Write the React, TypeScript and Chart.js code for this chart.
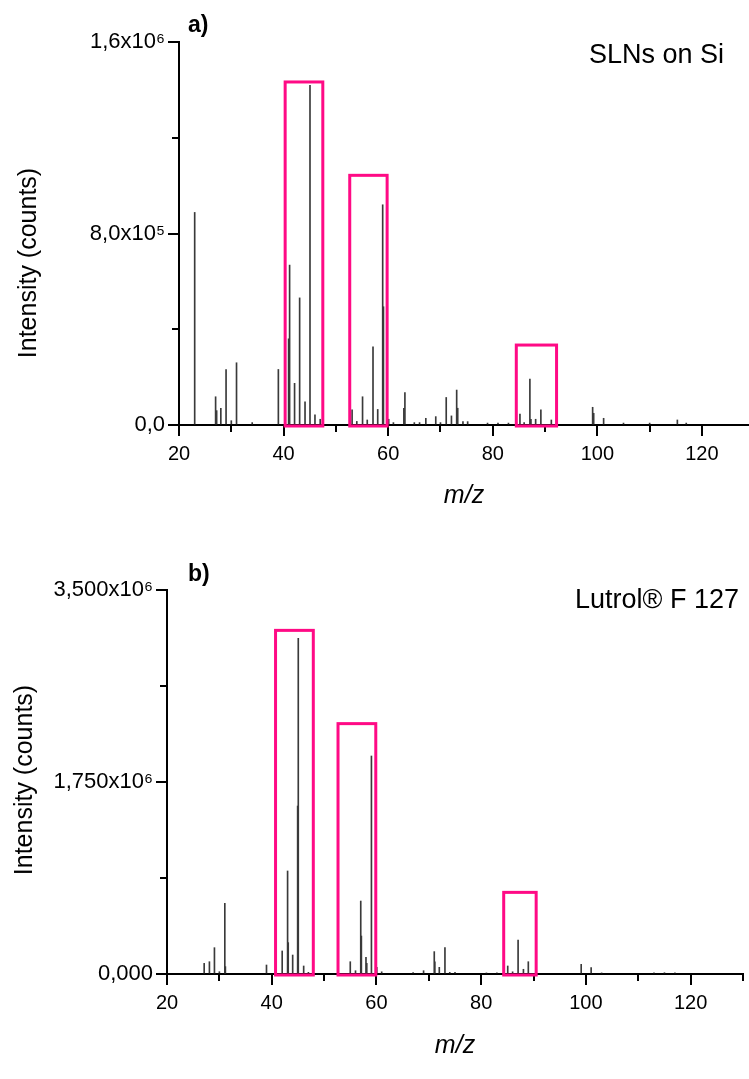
import React, { useEffect, useRef } from 'react';
import { Chart, registerables } from 'chart.js';

Chart.register(...registerables);

// ---------- Panel a) SLNs on Si ----------
const mzA = [23, 27, 27.2, 28, 29, 30, 31, 34, 39, 40.96, 41.15, 42.1, 43.07, 44.1, 45.05, 46, 47, 53.1, 54, 55.1, 56, 57.1, 58, 58.95, 59.1, 60.1, 61, 63.0, 63.2, 65, 66, 67.2, 69.1, 70, 71.1, 72.1, 73.1, 73.3, 74.3, 75.2, 79, 81, 83, 85.2, 86, 87.1, 87.3, 88.2, 89.2, 91.2, 99.1, 99.3, 101.2, 105, 110, 115.3, 117];
const intensityA = [888000, 118000, 60000, 70000, 232000, 18000, 260000, 10000, 232000, 360000, 668000, 174000, 531000, 97000, 1419000, 42000, 24000, 63000, 15000, 118000, 21000, 327000, 65000, 920000, 494000, 24000, 10000, 70000, 135000, 10000, 10000, 28000, 35000, 10000, 115000, 38000, 146000, 70000, 14000, 14000, 8000, 8000, 8000, 46000, 10000, 192000, 24000, 24000, 63000, 21000, 74000, 49000, 28000, 8000, 8000, 21000, 8000];
const yMajorA = [0, 800000, 1600000];
const yLabelsA = ['0,0', '8,0x10⁵', '1,6x10⁶'];
const yMinorA = [400000, 1200000];
const xMajorA = [20, 40, 60, 80, 100, 120];
const xMinorA = [30, 50, 70, 90, 110];
const boxStartA = [40.3, 52.65, 84.5];
const boxEndA = [47.5, 59.8, 92.2];
const boxTopA = [1433000, 1043000, 334000];

// ---------- Panel b) Lutrol F 127 ----------
const mzB = [27.1, 28.1, 29.06, 30, 31.04, 31.15, 39, 42, 43.03, 43.15, 44, 44.95, 45.07, 46.1, 47, 55, 56, 57, 57.12, 58, 58.15, 59.04, 60.06, 61, 67, 69, 71.04, 71.15, 72, 73.08, 74, 75, 81, 83, 85.07, 86, 87.05, 88.07, 89, 99.1, 101, 103, 113, 115, 117];
const intensityB = [97000, 112000, 240000, 21000, 644000, 67000, 82000, 210000, 939000, 286000, 173000, 1531000, 3060000, 73000, 15000, 112000, 30000, 665000, 346000, 152000, 97000, 1987000, 61000, 20000, 12000, 30000, 204000, 112000, 61000, 240000, 15000, 15000, 10000, 10000, 73000, 20000, 310000, 43000, 112000, 88000, 58000, 10000, 10000, 12000, 10000];
const yMajorB = [0, 1750000, 3500000];
const yLabelsB = ['0,000', '1,750x10⁶', '3,500x10⁶'];
const yMinorB = [875000, 2625000];
const xMajorB = [20, 40, 60, 80, 100, 120];
const xMinorB = [30, 50, 70, 90, 110, 130];
const boxStartB = [40.73, 52.66, 84.3];
const boxEndB = [47.94, 59.87, 90.5];
const boxTopB = [3132000, 2282000, 744000];

const FONT = '"Liberation Sans", Arial, Helvetica, sans-serif';
const BOX_COLOR = '#ff0a85';

type PanelProps = {
  top: number;
  width: number;
  height: number;
  area: { left: number; right: number; top: number; bottom: number };
  mz: number[];
  intensity: number[];
  xMax: number;
  yMax: number;
  yMajor: number[];
  yLabels: string[];
  yMinor: number[];
  xMajor: number[];
  xMinor: number[];
  boxStart: number[];
  boxEnd: number[];
  boxTop: number[];
  tag: string;
  tagPos: [number, number];
  tagSize: number;
  name: string;
  namePos: [number, number];
  nameSize: number;
  yTitlePos: [number, number];
  xTitlePos: [number, number];
  yTickSize: number;
};

function Panel(p: PanelProps) {
  const ref = useRef<HTMLCanvasElement | null>(null);

  useEffect(() => {
    const canvas = ref.current;
    if (!canvas) return;

    const overlay = {
      id: 'overlay' + p.tag,
      afterDraw(chart: any) {
        const { ctx, chartArea } = chart;
        const xs = chart.scales.x;
        const ys = chart.scales.y;
        ctx.save();
        // minor ticks
        ctx.strokeStyle = '#000';
        ctx.lineWidth = 2;
        ctx.beginPath();
        p.xMinor.forEach((v) => {
          const px = Math.round(xs.getPixelForValue(v));
          ctx.moveTo(px, chartArea.bottom);
          ctx.lineTo(px, chartArea.bottom + 7);
        });
        p.yMinor.forEach((v) => {
          const py = Math.round(ys.getPixelForValue(v));
          ctx.moveTo(chartArea.left, py);
          ctx.lineTo(chartArea.left - 7, py);
        });
        ctx.stroke();
        // highlight boxes
        ctx.strokeStyle = BOX_COLOR;
        ctx.lineWidth = 3;
        p.boxStart.forEach((s, i) => {
          const x0 = xs.getPixelForValue(s);
          const x1 = xs.getPixelForValue(p.boxEnd[i]);
          const yT = ys.getPixelForValue(p.boxTop[i]);
          const yB = ys.getPixelForValue(0) + 1;
          ctx.strokeRect(x0, yT, x1 - x0, yB - yT);
        });
        // texts
        ctx.fillStyle = '#000';
        ctx.textBaseline = 'alphabetic';
        ctx.textAlign = 'left';
        ctx.font = `bold ${p.tagSize}px ${FONT}`;
        ctx.fillText(p.tag, p.tagPos[0], p.tagPos[1]);
        ctx.font = `${p.nameSize}px ${FONT}`;
        ctx.fillText(p.name, p.namePos[0], p.namePos[1]);
        // y title
        ctx.save();
        ctx.translate(p.yTitlePos[0], p.yTitlePos[1]);
        ctx.rotate(-Math.PI / 2);
        ctx.textAlign = 'center';
        ctx.textBaseline = 'middle';
        ctx.font = `25px ${FONT}`;
        ctx.fillText('Intensity (counts)', 0, 0);
        ctx.restore();
        // x title
        ctx.textAlign = 'center';
        ctx.textBaseline = 'middle';
        ctx.font = `italic 25px ${FONT}`;
        ctx.fillText('m/z', p.xTitlePos[0], p.xTitlePos[1]);
        ctx.restore();
      },
    };

    const chart = new Chart(canvas, {
      type: 'bar',
      data: {
        datasets: [
          {
            data: p.mz.map((m, i) => ({ x: m, y: p.intensity[i] })),
            backgroundColor: '#3a3a3a',
            borderWidth: 0,
            barThickness: 1,
          },
        ],
      },
      options: {
        responsive: false,
        animation: false,
        events: [],
        layout: {
          padding: {
            top: p.area.top,
            left: 0,
            right: p.width - p.area.right,
            bottom: 0,
          },
        },
        plugins: {
          legend: { display: false },
          tooltip: { enabled: false },
          title: { display: false },
        },
        scales: {
          x: {
            type: 'linear',
            min: 20,
            max: p.xMax,
            offset: false,
            afterFit: (s: any) => {
              s.height = p.height - p.area.bottom;
            },
            afterBuildTicks: (s: any) => {
              s.ticks = p.xMajor.map((v) => ({ value: v }));
            },
            ticks: {
              color: '#000',
              font: { family: FONT, size: 20 },
              padding: 6,
              maxRotation: 0,
              autoSkip: false,
              callback: (v: any) => String(v),
            },
            grid: {
              display: true,
              offset: false,
              drawOnChartArea: false,
              drawTicks: true,
              tickLength: 11,
              color: '#000',
              lineWidth: 2,
            },
            border: { display: true, color: '#000', width: 2 },
          },
          y: {
            type: 'linear',
            min: 0,
            max: p.yMax,
            afterFit: (s: any) => {
              s.width = p.area.left;
            },
            afterBuildTicks: (s: any) => {
              s.ticks = p.yMajor.map((v) => ({ value: v }));
            },
            ticks: {
              color: '#000',
              font: { family: FONT, size: p.yTickSize },
              padding: 3,
              autoSkip: false,
              callback: (_v: any, i: number) => p.yLabels[i],
            },
            grid: {
              display: true,
              drawOnChartArea: false,
              drawTicks: true,
              tickLength: 11,
              color: '#000',
              lineWidth: 2,
            },
            border: { display: true, color: '#000', width: 2 },
          },
        },
      },
      plugins: [overlay],
    } as any);

    return () => chart.destroy();
  }, []);

  return (
    <div style={{ position: 'absolute', left: 0, top: p.top, width: p.width, height: p.height }}>
      <canvas ref={ref} width={p.width} height={p.height} style={{ display: 'block' }} />
    </div>
  );
}

export default function App() {
  return (
    <div style={{ position: 'absolute', left: 0, top: 0, width: 749, height: 1079, background: '#fff' }}>
      <Panel
        top={0}
        width={749}
        height={530}
        area={{ left: 179, right: 749, top: 42, bottom: 425 }}
        mz={mzA}
        intensity={intensityA}
        xMax={129}
        yMax={1600000}
        yMajor={yMajorA}
        yLabels={yLabelsA}
        yMinor={yMinorA}
        xMajor={xMajorA}
        xMinor={xMinorA}
        boxStart={boxStartA}
        boxEnd={boxEndA}
        boxTop={boxTopA}
        tag="a)"
        tagPos={[188, 32]}
        tagSize={23}
        name="SLNs on Si"
        namePos={[589, 63]}
        nameSize={27}
        yTitlePos={[29, 263]}
        xTitlePos={[464, 496]}
        yTickSize={22}
      />
      <Panel
        top={540}
        width={749}
        height={539}
        area={{ left: 167, right: 743, top: 50, bottom: 434 }}
        mz={mzB}
        intensity={intensityB}
        xMax={130}
        yMax={3500000}
        yMajor={yMajorB}
        yLabels={yLabelsB}
        yMinor={yMinorB}
        xMajor={xMajorB}
        xMinor={xMinorB}
        boxStart={boxStartB}
        boxEnd={boxEndB}
        boxTop={boxTopB}
        tag="b)"
        tagPos={[188, 41]}
        tagSize={23}
        name="Lutrol® F 127"
        namePos={[575, 68]}
        nameSize={27}
        yTitlePos={[25, 240]}
        xTitlePos={[455, 506]}
        yTickSize={22}
      />
    </div>
  );
}
